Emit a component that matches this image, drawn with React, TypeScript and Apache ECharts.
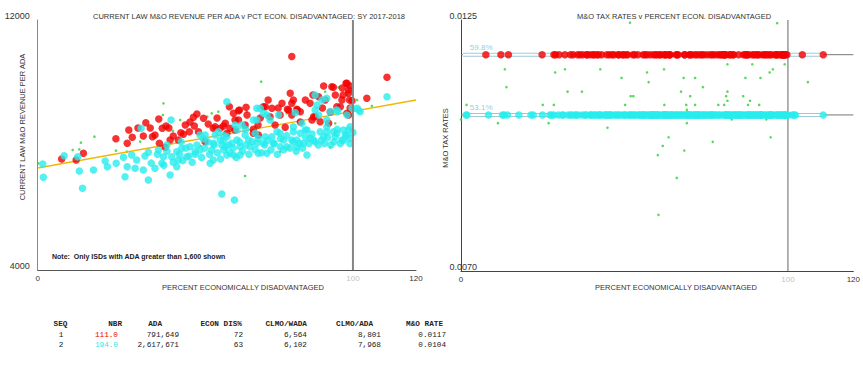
import React, { useEffect, useRef } from "react";
import * as echarts from "echarts";

// ---------- DATA ----------
// Group 1 (red): [pct econ disadvantaged, current law M&O revenue per ADA]
const redPoints: [number, number][] = [
  [7.6, 7552], [12.2, 7520], [14.5, 7734], [24.8, 8202], [28.4, 8054], [28.9, 8480], [30.0, 8246], [33.5, 8288], [34.3, 8714], [36.4, 8266],
  [37.2, 8320], [38.4, 8832], [38.6, 8054], [39.5, 8534], [40.7, 8608], [40.4, 7926], [44.6, 8160], [45.4, 8394], [46.8, 8640], [48.1, 8426],
  [49.4, 8886], [50.5, 8992], [49.7, 8608], [51.0, 8426], [52.6, 8854], [53.1, 8106], [56.3, 8586], [57.9, 8534], [59.5, 8694], [60.8, 9226],
  [61.0, 8534], [43.0, 8288], [46.2, 8342], [55.7, 8534], [60.0, 8374], [62.1, 9014], [62.6, 8800], [64.0, 9120], [66.1, 9206], [68.4, 8374],
  [70.0, 8320], [72.2, 9226], [74.3, 9174], [77.5, 9334], [79.2, 9142], [80.1, 9654], [80.6, 10832], [81.1, 9440], [82.4, 9120], [86.4, 9334],
  [88.0, 8906], [89.1, 9546], [90.7, 9888], [91.2, 9440], [93.3, 9866], [94.9, 9226], [96.5, 9440], [98.1, 9974], [98.6, 9654], [98.9, 9440],
  [98.6, 8960], [104.4, 9494], [110.8, 10166], [63.7, 9098], [71.6, 9226], [80.6, 9334], [79.6, 9120], [82.2, 9142], [98.1, 9014], [63.7, 8800],
  [73.7, 8906], [80.6, 8960], [87.0, 8800], [89.6, 8746], [92.3, 8694], [58.9, 8608], [62.6, 8480], [68.4, 8502], [78.5, 8566], [87.5, 8906],
  [83.3, 9066], [96.0, 9226], [87.3, 9600], [99.7, 9418], [93.8, 9846], [97.8, 9974], [98.6, 9760], [65.8, 8640], [70.6, 8864], [75.3, 8640],
  [83.3, 8736], [84.9, 9440], [92.8, 9056], [96.9, 9600], [99.1, 9184], [76.9, 8960], [56.9, 8864], [54.1, 8672], [48.3, 8736], [41.6, 8544],
  [42.0, 8160], [35.7, 8544], [31.8, 8544], [66.4, 8960], [69.9, 8640], [90.3, 9184], [94.4, 9600], [96.6, 9824], [99.1, 9888], [73.1, 9440],
  [76.3, 9184],
];

// Group 2 (cyan)
const cyanPoints: [number, number][] = [
  [1.6, 7392], [1.8, 6966], [8.4, 7658], [12.7, 7626], [13.2, 7168], [14.2, 6614], [17.7, 7200], [21.4, 7488], [22.1, 7306], [24.9, 7414],
  [27.2, 7606], [27.7, 6986], [28.4, 7306], [29.8, 7680], [30.9, 7254], [31.4, 7520], [32.8, 8534], [33.5, 7200], [35.1, 6880], [35.1, 7766],
  [37.2, 7254], [38.3, 7840], [39.4, 7414], [39.9, 7626], [42.0, 7040], [41.0, 8000], [42.3, 8800], [42.5, 7626], [44.1, 7786], [44.1, 7306],
  [44.6, 7520], [45.7, 7894], [47.3, 7626], [48.3, 7946], [49.9, 7786], [51.5, 8320], [53.1, 8320], [51.5, 7840], [54.7, 7414], [55.7, 7520],
  [55.2, 7840], [56.3, 8320], [58.4, 8000], [58.4, 6432], [60.0, 9386], [60.0, 8266], [57.3, 8426], [62.4, 6240], [60.0, 7680], [62.1, 7680],
  [64.2, 7680], [72.7, 7734], [85.4, 7680], [58.9, 8160], [61.6, 8054], [63.2, 8160], [63.2, 8480], [64.8, 8640], [65.8, 8320], [66.9, 8160],
  [68.4, 8800], [69.5, 9174], [70.6, 9174], [69.0, 8374], [69.5, 8054], [70.0, 7734], [71.6, 9014], [72.2, 8266], [73.7, 8800], [74.3, 8266],
  [74.8, 8054], [76.4, 8960], [76.9, 8374], [78.0, 8160], [79.0, 7946], [80.6, 8160], [81.7, 9034], [81.1, 8426], [82.2, 8160], [83.3, 8374],
  [84.9, 8480], [86.4, 8214], [88.0, 9600], [88.0, 9120], [88.6, 9280], [89.1, 8960], [89.6, 8426], [90.7, 8266], [91.7, 8426], [91.7, 8800],
  [92.8, 9066], [94.4, 8266], [94.9, 8374], [95.1, 9066], [96.5, 8160], [97.6, 8320], [98.6, 8480], [99.1, 8214], [99.7, 9174], [101.3, 9174],
  [102.3, 9066], [110.8, 9546], [57.9, 8160], [59.5, 7946], [64.2, 7946], [67.4, 7946], [71.6, 8054], [76.9, 7946], [82.2, 7946], [84.3, 8054],
  [87.5, 8160], [97.0, 8480], [99.1, 8586], [90.2, 9440], [91.7, 9494], [94.9, 9120], [98.1, 8960], [101.8, 9120], [69.5, 8800], [72.7, 8960],
  [75.9, 8426], [81.1, 8586], [83.8, 8694], [85.4, 8480], [91.7, 8586], [93.8, 8426], [62.6, 8640], [55.7, 8054],
  [34, 7650], [36, 7420], [38, 7700], [40, 7350], [41, 7800], [43, 7450], [45, 7700], [46, 7500], [47, 7900], [48, 7650],
  [49, 7450], [50, 7700], [50.5, 8000], [52, 7600], [53, 7900], [54, 8100], [54.5, 7700], [56, 8000], [57, 7750], [58, 7550],
  [59, 7850], [60.5, 8000], [61, 7750], [62, 7900], [63, 7600], [64, 8100], [65, 7800], [66, 8000], [67, 7700], [68, 8100],
  [69, 7850], [70, 8200], [71, 7750], [72, 8000], [73, 8150], [74, 7850], [75, 8050], [76, 7700], [77, 8200], [78, 7850],
  [79, 8300], [80, 7900], [81, 8100], [82, 7800], [83, 8050], [84, 7900], [85, 8250], [86, 8050], [87, 8350], [88, 8100],
  [89, 8000], [90, 8150], [91, 8050], [92, 8250], [93, 8000], [94, 8100], [95, 8500], [96, 8050], [97, 8150], [98, 8300],
  [99, 8050], [100, 8400], [45.5, 8100], [52.5, 8200], [59, 8300], [66, 8500],
];

// Other districts (green) on revenue chart
const greenRevenuePoints: [number, number][] = [
  [39.9, 9334], [70.9, 10026], [18.0, 8266], [13.7, 8074], [106.0, 9248], [55.2, 9014], [57.3, 9066], [96.0, 9546], [42.9, 8448], [45.2, 8800],
  [11.1, 7840], [0.2, 7414], [13.2, 7862], [24.8, 7818], [28.3, 7786], [32.5, 8106], [39.7, 8960], [53.8, 8906], [51.7, 7968], [59.8, 7862],
  [95.4, 9846], [98.1, 9600], [101.3, 9440], [91.2, 9706], [76.9, 7786], [92.8, 7926], [65.8, 7008], [94.4, 8694], [69.0, 8586], [66.3, 9066],
  [79.0, 9014],
];

// Other districts (green) on tax rate chart: [pct, M&O rate]
const greenRatePoints: [number, number][] = [
  [51.7, 0.01244], [96.7, 0.01243], [13.4, 0.01142], [28.8, 0.01135], [31.8, 0.01142], [42.6, 0.01142], [49.1, 0.01123], [56.9, 0.01135], [62.1, 0.01142], [81.5, 0.01153],
  [89.1, 0.01153], [99.0, 0.01153], [95.4, 0.01142], [94.4, 0.01135], [57.4, 0.01114], [68.1, 0.01123], [71.6, 0.01123], [87.0, 0.01123], [91.6, 0.01123], [13.9, 0.01103],
  [32.6, 0.01093], [37.0, 0.01093], [67.3, 0.01093], [74.0, 0.01103], [81.5, 0.01093], [81.1, 0.01083], [86.3, 0.01083], [106.1, 0.01114], [51.9, 0.01083], [52.7, 0.01083],
  [70.1, 0.01083], [81.5, 0.01073], [88.4, 0.01073], [1.7, 0.01064], [25.0, 0.01064], [28.4, 0.01064], [50.2, 0.01064], [62.2, 0.01064], [68.9, 0.01064], [71.6, 0.01064],
  [78.7, 0.01064], [80.5, 0.01064], [87.8, 0.01064], [91.2, 0.01064], [69.1, 0.01053], [0.0, 0.01032], [11.3, 0.01024], [26.8, 0.01024], [69.1, 0.01024], [82.8, 0.01032],
  [93.4, 0.01032], [44.8, 0.01014], [63.5, 0.00993], [94.7, 0.00993], [77.0, 0.00983], [61.7, 0.00974], [60.2, 0.00954], [68.3, 0.00964], [66.0, 0.00904], [60.4, 0.00823],
];

const trendLine: [number, number][] = [[0, 7264], [120, 9440]];
const groupRates = [0.01174, 0.01042];
const groupPctLabels = ["59.8%", "53.1%"];
const referencePct = 100;

const pctRange = [0, 120];
const revenueRange = [4000, 12000];
const rateRange = [0.007, 0.0125];
const pctTicks = [0, 100, 120];
const revenueTicks = [4000, 12000];
const rateTicks = [0.007, 0.0125];

const leftTitle = "CURRENT LAW M&O REVENUE PER ADA v PCT ECON. DISADVANTAGED: SY 2017-2018";
const rightTitle = "M&O TAX RATES v PERCENT ECON. DISADVANTAGED";
const leftYName = "CURRENT LAW M&O REVENUE PER ADA";
const rightYName = "M&O TAX RATES";
const xName = "PERCENT ECONOMICALLY DISADVANTAGED";
const noteText = "Note:  Only ISDs with ADA greater than 1,600 shown";

const tableHeader = ["SEQ", "NBR", "ADA", "ECON DIS%", "CLMO/WADA", "CLMO/ADA", "M&O RATE"];
const tableRows = [
  ["1", "111.0", "791,649", "72", "6,564", "8,801", "0.0117"],
  ["2", "194.0", "2,617,671", "63", "6,102", "7,968", "0.0104"],
];

// ---------- STYLE / LAYOUT ----------
const RED = "#f20000";
const CYAN = "#27eced";
const GREEN = "#2fd02f";
const GROUP_COLORS = [RED, CYAN];
const SANS = '"Liberation Sans", Arial, sans-serif';
const MONO = '"Liberation Mono", "Courier New", monospace';

const headerPos: [number, string][] = [[60.5, "center"], [122, "right"], [162, "right"], [242, "right"], [307, "right"], [373, "right"], [443, "right"]];
const valuePos: [number, string][] = [[61, "center"], [118, "right"], [179, "right"], [243, "right"], [307, "right"], [381, "right"], [446, "right"]];
const rowY = [324, 334.5, 345];

function buildOption(): any {
  const groups = [redPoints, cyanPoints];

  const graphics: any[] = [
    { type: "text", x: 249, y: 16, style: { text: leftTitle, font: `7.5px ${SANS}`, fill: "#333", textAlign: "center", textVerticalAlign: "middle" } },
    { type: "text", x: 674, y: 16, style: { text: rightTitle, font: `7.5px ${SANS}`, fill: "#333", textAlign: "center", textVerticalAlign: "middle" } },
    { type: "text", x: 22, y: 127, rotation: Math.PI / 2, style: { text: leftYName, font: `7.5px ${SANS}`, fill: "#333", textAlign: "center", textVerticalAlign: "middle" } },
    { type: "text", x: 445, y: 138, rotation: Math.PI / 2, style: { text: rightYName, font: `7.5px ${SANS}`, fill: "#333", textAlign: "center", textVerticalAlign: "middle" } },
    { type: "text", x: 243, y: 287, style: { text: xName, font: `7.5px ${SANS}`, fill: "#333", textAlign: "center", textVerticalAlign: "middle" } },
    { type: "text", x: 676, y: 287, style: { text: xName, font: `7.5px ${SANS}`, fill: "#333", textAlign: "center", textVerticalAlign: "middle" } },
    { type: "text", x: 52, y: 256, style: { text: noteText, font: `bold 7px ${SANS}`, fill: "#222", textAlign: "left", textVerticalAlign: "middle" } },
  ];
  tableHeader.forEach((h, i) => {
    graphics.push({ type: "text", x: headerPos[i][0], y: rowY[0], style: { text: h, font: `bold 7.7px ${MONO}`, fill: "#222", textAlign: headerPos[i][1], textVerticalAlign: "middle" } });
  });
  tableRows.forEach((row, r) => {
    row.forEach((cell, i) => {
      graphics.push({ type: "text", x: valuePos[i][0], y: rowY[r + 1], style: { text: cell, font: `7.7px ${MONO}`, fill: i === 1 ? GROUP_COLORS[r] : "#222", textAlign: valuePos[i][1], textVerticalAlign: "middle" } });
    });
  });

  const pctLabelColor = (v: any) => (Number(v) === referencePct ? "#c4c4c4" : "#333");

  const series: any[] = [
    // ---- left chart ----
    { type: "scatter", xAxisIndex: 0, yAxisIndex: 0, data: greenRevenuePoints, symbolSize: 2.6, itemStyle: { color: GREEN }, z: 2 },
    { type: "line", xAxisIndex: 0, yAxisIndex: 0, data: trendLine, symbol: "none", lineStyle: { color: "#f2b705", width: 1.3 }, z: 3 },
    { type: "scatter", xAxisIndex: 0, yAxisIndex: 0, data: redPoints, symbolSize: 7.5, itemStyle: { color: RED }, z: 4 },
    { type: "scatter", xAxisIndex: 0, yAxisIndex: 0, data: cyanPoints, symbolSize: 7.5, itemStyle: { color: CYAN }, z: 5 },
    {
      type: "line", xAxisIndex: 0, yAxisIndex: 0, data: [[referencePct, revenueRange[0]], [referencePct, revenueRange[1]]],
      symbol: "none", lineStyle: { color: "#858585", width: 2 }, z: 6,
    },
    // ---- right chart ----
    { type: "scatter", xAxisIndex: 1, yAxisIndex: 1, data: greenRatePoints, symbolSize: 2.6, itemStyle: { color: GREEN }, z: 4 },
    {
      type: "line", xAxisIndex: 1, yAxisIndex: 1, data: [[referencePct, rateRange[0]], [referencePct, rateRange[1]]],
      symbol: "none", lineStyle: { color: "#666", width: 1 }, z: 2,
    },
  ];

  groups.forEach((pts, g) => {
    const rate = groupRates[g];
    const maxPct = Math.max(...pts.map((p) => p[0]));
    const tube: [number, number][] = [[0.6, rate], [maxPct, rate]];
    series.push({ type: "line", xAxisIndex: 1, yAxisIndex: 1, data: [[pctRange[0], rate], [pctRange[1], rate]], symbol: "none", lineStyle: { color: "#777", width: 1 }, z: 2 });
    series.push({ type: "line", xAxisIndex: 1, yAxisIndex: 1, data: tube, symbol: "none", lineStyle: { color: "#9fc9d9", width: 4 }, z: 3 });
    series.push({ type: "line", xAxisIndex: 1, yAxisIndex: 1, data: tube, symbol: "none", lineStyle: { color: "#ffffff", width: 2 }, z: 3 });
    series.push({
      type: "scatter", xAxisIndex: 1, yAxisIndex: 1, data: [[2.7, rate]], symbolSize: 1, itemStyle: { color: "rgba(0,0,0,0)" }, z: 6,
      label: { show: true, position: "top", align: "left", distance: 3, formatter: groupPctLabels[g], color: "#84b9d0", fontSize: 8, fontFamily: SANS },
    });
    series.push({ type: "scatter", xAxisIndex: 1, yAxisIndex: 1, data: pts.map((p) => [p[0], rate]), symbolSize: 7.5, itemStyle: { color: GROUP_COLORS[g] }, z: 5 });
  });

  return {
    animation: false,
    backgroundColor: "#ffffff",
    grid: [
      { left: 37.7, top: 20, width: 378.3, height: 250 },
      { left: 461, top: 20, width: 395, height: 251 },
    ],
    xAxis: [
      {
        gridIndex: 0, type: "value", min: pctRange[0], max: pctRange[1],
        axisLine: { show: true, onZero: false, lineStyle: { color: "#555", width: 1 } },
        axisTick: { show: false }, splitLine: { show: false },
        axisLabel: { customValues: pctTicks, fontSize: 8, margin: 4, fontFamily: SANS, color: pctLabelColor, formatter: (v: number) => String(v) },
      },
      {
        gridIndex: 1, type: "value", min: pctRange[0], max: pctRange[1],
        axisLine: { show: true, onZero: false, lineStyle: { color: "#444", width: 1 } },
        axisTick: { show: false }, splitLine: { show: false },
        axisLabel: { customValues: pctTicks, fontSize: 8, margin: 4, fontFamily: SANS, color: pctLabelColor, formatter: (v: number) => String(v) },
      },
    ],
    yAxis: [
      {
        gridIndex: 0, type: "value", min: revenueRange[0], max: revenueRange[1],
        axisLine: { show: true, onZero: false, lineStyle: { color: "#888", width: 1 } },
        axisTick: { show: false }, splitLine: { show: false },
        axisLabel: { customValues: revenueTicks, fontSize: 9, margin: 8, verticalAlign: "bottom", fontFamily: SANS, color: "#333", formatter: (v: number) => String(v) },
      },
      {
        gridIndex: 1, type: "value", min: rateRange[0], max: rateRange[1],
        axisLine: { show: true, onZero: false, lineStyle: { color: "#444", width: 1 } },
        axisTick: { show: false }, splitLine: { show: false },
        axisLabel: { customValues: rateTicks, fontSize: 9, margin: -16, verticalAlign: "bottom", fontFamily: SANS, color: "#333", formatter: (v: number) => v.toFixed(4) },
      },
    ],
    graphic: graphics,
    series,
  };
}

export default function App() {
  const ref = useRef<HTMLDivElement>(null);
  useEffect(() => {
    if (!ref.current) return;
    const chart = echarts.init(ref.current, null, { renderer: "svg" });
    chart.setOption(buildOption());
    return () => chart.dispose();
  }, []);
  return (
    <div style={{ position: "absolute", left: 0, top: 0, width: 863, height: 374, overflow: "hidden", background: "#fff" }}>
      <div ref={ref} style={{ width: 863, height: 374 }} />
    </div>
  );
}
